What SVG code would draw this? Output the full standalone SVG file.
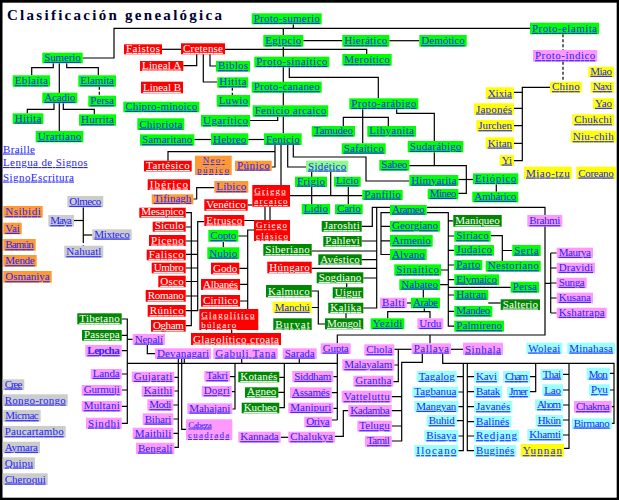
<svg xmlns="http://www.w3.org/2000/svg" width="619" height="500" viewBox="0 0 619 500">
<style>
text{font-family:"Liberation Serif","DejaVu Serif",serif;font-size:11px;text-decoration:underline;fill:#2424ff}
text.t2{font-size:9px}
.g rect{fill:#00ff00}
.lg rect{fill:#88ff88}
.dg rect{fill:#008800}.dg text{fill:#ffffff}
.r rect{fill:#ff0000}.r text{fill:#ffffff}
.o rect{fill:#ff9933}
.p rect{fill:#ff99ff}
.y rect{fill:#ffff00}
.c rect{fill:#99ffff}
.s rect{fill:#cccccc}
#connectors path{fill:none;stroke:#000;stroke-width:1.2}
#connectors path.d{stroke-dasharray:3 2}
.title{font-size:15px;font-weight:bold;text-decoration:none;fill:#000033}
</style>
<rect x="0" y="0" width="619" height="500" fill="#000"/>
<rect x="2.5" y="2.7" width="614.2" height="495" fill="#fff"/>
<text class="title" x="7" y="19.5" textLength="215">Clasificación genealógica</text>
<g id="links">
<text x="3" y="152.5" textLength="32">Braille</text>
<text x="3" y="166" textLength="84.6">Lengua de Signos</text>
<text x="3" y="180.5" textLength="71">SignoEscritura</text>
</g>
<g id="connectors">
<path d="M82.7,58 H114 V28.3 H530"/>
<path d="M293.3,24.3 V28.3"/>
<path d="M283.3,28.3 V35"/>
<path d="M303.3,40.7 H342.3"/>
<path d="M389.3,40.7 H419.3"/>
<path d="M162,49.3 H181"/>
<path d="M225,49.3 H366.7 V54"/>
<path d="M283.3,46.7 V133.3"/>
<path d="M196.7,54.3 V65.7 H183.3"/>
<path d="M210,54.3 V66 H216"/>
<path d="M203.3,54.3 V82 H217.3"/>
<path class="d" d="M232.3,87.7 V95"/>
<path d="M289.3,67.4 V77.3 H378.3 V98.3"/>
<path d="M250,120.5 H277.7 V116.7"/>
<path d="M194.3,139.5 H211"/>
<path d="M248.3,139.5 H264"/>
<path d="M362.7,109.3 V143.3"/>
<path d="M343.3,126 V117.3 H388.3 V126"/>
<path d="M396.7,109.3 V113.3 H434.3 V141"/>
<path d="M434.3,152.3 V165.7"/>
<path d="M409.3,165.7 H466.3 V193.3 H458.3"/>
<path d="M458.3,179.5 H473"/>
<path d="M496.3,184.3 V191.7"/>
<path class="d" d="M563,34.3 V50"/>
<path class="d" d="M563,61.7 V81.7"/>
<path d="M550,87.3 H522.3 V160.7 H514 M514,92.3 H522.3 M514,108.3 H522.3 M514,125.7 H522.3 M514,143.3 H522.3"/>
<path d="M31.7,75.3 V67.7 H53.3 V63.3"/>
<path d="M66.7,63.3 V67.7 H98.3 V75.3"/>
<path d="M59.3,63.3 V131"/>
<path class="d" d="M99.3,86.7 V95.7"/>
<path d="M27.3,113.3 V109.3 H54 V103.3"/>
<path d="M63.3,103.3 V109.3 H94.3 V114.3"/>
<path d="M275,145 V167 H271.7"/>
<path d="M275,151.7 H168 V160.7"/>
<path d="M281,145 V185"/>
<path d="M287.7,145 V167 H306"/>
<path d="M293.3,145 V157 H366 V181 H409.3"/>
<path d="M290,195.7 H362.3"/>
<path d="M311.7,172 V204"/>
<path d="M330.7,172 V195.7"/>
<path d="M348.3,186.7 V204.3"/>
<path d="M265,206.7 V220.5 H244.3"/>
<path d="M247.7,205 H252.3"/>
<path d="M270,206.7 V220"/>
<path d="M254,230 H247.7 V309 M238.3,236 H247.7 M239.3,268.3 H247.7 M240,284.3 H247.7 M240,301 H247.7"/>
<path d="M223.3,241.7 V247.3"/>
<path d="M231.7,330 V333"/>
<path d="M204.3,221.7 H197.7 V310.7 H185.7 M185.7,241 H197.7 M185.7,254.3 H197.7 M185.7,268 H197.7 M185.7,281.5 H197.7 M185.7,296 H197.7"/>
<path d="M185.7,212.7 H191.3 V325.7 H185.7 M185.7,227 H191.3"/>
<path d="M214.3,187.7 H196.7 V199 H193.3"/>
<path d="M426.7,207.3 H545 V335 H337.3 V343.3 M430,335 V343.3"/>
<path d="M426.7,212.7 H448.3 V326.2 H454.3 M448.3,220.8 H453.3 M448.3,236 H454.3 M448.3,250.3 H454.3 M448.3,265 H454.3 M448.3,279.6 H454.3 M448.3,295 H454.3 M448.3,311.3 H454.3 M441,270 H448.3 M440,284.6 H448.3"/>
<path d="M423.3,290 V297.7"/>
<path d="M406.7,303 H411"/>
<path d="M387.7,318.3 V311.7 H430 V318.3 M424.3,308.3 V311.7"/>
<path d="M390,207.3 H372.3 V226.3 H361.7"/>
<path d="M390,212.7 H381 V254.5 H390 M381,226.3 H390 M381,240.8 H390"/>
<path d="M376.7,207.3 V308 H363.3 M361.7,241 H376.7 M311.7,251 H376.7 M361.7,259.7 H376.7 M311.7,268.3 H376.7 M363.3,278 H376.7"/>
<path d="M346.7,283.3 V287.3"/>
<path d="M346,313.3 V318.3"/>
<path d="M325,324 H318.3 V291 H311.7 M311.7,307.5 H318.3"/>
<path d="M490.7,235.7 H502.3 V261 M502.3,250.5 H512.3"/>
<path d="M448.3,287.3 H510.7"/>
<path d="M488.3,303 H500.7"/>
<path d="M545,283.3 H550.7 M550.7,253 V313 M550.7,253 H556.7 M550.7,268 H556.7 M550.7,283 H556.7 M550.7,298 H556.7 M550.7,313 H556.7"/>
<path d="M337.3,354 V420 M333.3,376.7 H337.3 M331.7,392.7 H337.3 M333.3,408.3 H337.3 M331.7,420 H337.3"/>
<path d="M127.3,363.3 H337.3"/>
<path d="M121.7,319 H127.3 V423.3 H121.7 M121.7,335.3 H127.3 M121.7,350.7 H127.3 M121.7,374 H127.3 M121.7,390 H127.3 M121.7,406.3 H127.3"/>
<path d="M127.3,339.3 H132.7"/>
<path d="M147.3,345 V353.7 H155"/>
<path d="M178.3,359 V447.3 H174.3 M174.3,377.3 H178.3 M174.3,391 H178.3 M173.3,405 H178.3 M173.3,419 H178.3 M173.3,433.3 H178.3"/>
<path d="M181.7,359 V429.3 H186"/>
<path d="M184.3,359 V363.3"/>
<path d="M241.7,359 V363.3"/>
<path d="M235,363.3 V409 H232.3 M230,376.7 H235 M231.7,391.7 H235"/>
<path d="M284.3,363.3 V407.7 H279.3 M279.3,377.3 H284.3 M278.3,392.3 H284.3"/>
<path d="M299.3,359 V363.3"/>
<path d="M280.7,437.3 H288.3"/>
<path d="M348.3,410.7 H343.3 V436.3 H335"/>
<path d="M394.3,349.3 H411.7"/>
<path d="M398.3,349.3 V381.7 H393.3 M394.3,365 H398.3"/>
<path d="M422.3,354 V362.3 H401.7 V441 H391.7 M391.7,396.7 H401.7 M391.7,410.7 H401.7 M391.7,426 H401.7"/>
<path d="M451,349.3 H463"/>
<path d="M442.7,354 V363.3 H614 V423.3 H611.7"/>
<path d="M463.3,363.3 V450.7 H458.3 M456.7,376.7 H463.3 M458.3,392 H463.3 M458.3,406.7 H463.3 M456.7,420.7 H463.3 M458.3,436 H463.3"/>
<path d="M467.3,363.3 V450.7 H474 M467.3,376.7 H474 M467.3,391.7 H474 M467.3,406.7 H474 M467.3,421.7 H474 M467.3,436 H474"/>
<path d="M535.7,363.3 V391.7 H530 M530,376.7 H535.7"/>
<path d="M569,363.3 V448.3 H564 M563,374.3 H569 M563,390 H569 M563,405 H569 M563,420 H569 M563,435 H569"/>
<path d="M609.7,373.3 H614 M609.7,390 H614 M611.7,406.7 H614"/>
<path d="M83.3,207.3 V240"/>
<path class="d" d="M83.3,240 V245.7"/>
<path d="M74,220.5 H83.3"/>
<path d="M83.3,235 H92.3"/>
</g>
<g id="proto-sumerio" class="g"><rect x="251.7" y="13.3" width="70" height="11"/><text x="253.7" y="21.8" textLength="66">Proto-sumerio</text></g>
<g id="egipcio" class="g"><rect x="263.3" y="35" width="40" height="11.7"/><text x="265.3" y="44.2" textLength="36">Egipcio</text></g>
<g id="hieratico" class="g"><rect x="342.3" y="35" width="47" height="11.7"/><text x="344.3" y="44.2" textLength="43">Hierático</text></g>
<g id="demotico" class="g"><rect x="419.3" y="35" width="47.4" height="11.7"/><text x="421.3" y="44.2" textLength="43.4">Demótico</text></g>
<g id="proto-elamita" class="g"><rect x="530" y="22.7" width="69" height="11.6"/><text x="532" y="31.8" textLength="65">Proto-elamita</text></g>
<g id="proto-indico" class="p"><rect x="533" y="50" width="64.3" height="11.7"/><text x="535" y="59.2" textLength="60.3">Proto-índico</text></g>
<g id="chino" class="y"><rect x="550" y="81.7" width="31.7" height="11"/><text x="552" y="90.2" textLength="27.7">Chino</text></g>
<g id="miao" class="y"><rect x="588.3" y="66.7" width="25.7" height="10.6"/><text x="590.3" y="74.8" textLength="21.7">Miao</text></g>
<g id="naxi" class="y"><rect x="590.7" y="81.7" width="23.3" height="11"/><text x="592.7" y="90.2" textLength="19.3">Naxi</text></g>
<g id="yao" class="y"><rect x="593" y="98.3" width="21" height="11"/><text x="595" y="106.8" textLength="17">Yao</text></g>
<g id="chukchi" class="y"><rect x="572.3" y="114.3" width="41.7" height="11.4"/><text x="574.3" y="123.2" textLength="37.7">Chukchi</text></g>
<g id="niu-chih" class="y"><rect x="570.7" y="130.7" width="45" height="12"/><text x="572.7" y="140.2" textLength="41">Niu-chih</text></g>
<g id="xixia" class="y"><rect x="485.7" y="87.3" width="28.3" height="11.7"/><text x="487.7" y="96.5" textLength="24.3">Xixia</text></g>
<g id="japones" class="y"><rect x="474" y="103.3" width="40" height="11.7"/><text x="476" y="112.5" textLength="36">Japonés</text></g>
<g id="jurchen" class="y"><rect x="476.3" y="120" width="37.7" height="11.7"/><text x="478.3" y="129.2" textLength="33.7">Jurchen</text></g>
<g id="kitan" class="y"><rect x="485.7" y="137.3" width="28.3" height="11.7"/><text x="487.7" y="146.5" textLength="24.3">Kitan</text></g>
<g id="yi" class="y"><rect x="499.7" y="155" width="14.3" height="11"/><text x="501.7" y="163.5" textLength="10.3">Yi</text></g>
<g id="miao-tzu" class="y"><rect x="524" y="166.7" width="47.7" height="12.3"/><text x="526" y="176.5" textLength="43.7">Miao-tzu</text></g>
<g id="coreano" class="y"><rect x="576.3" y="166.7" width="39.4" height="12.3"/><text x="578.3" y="176.5" textLength="35.4">Coreano</text></g>
<g id="sumerio" class="g"><rect x="42.3" y="52.7" width="40.4" height="10.6"/><text x="44.3" y="60.8" textLength="36.4">Sumerio</text></g>
<g id="eblaita" class="g"><rect x="12.7" y="75.3" width="37.3" height="11.4"/><text x="14.7" y="84.2" textLength="33.3">Eblaíta</text></g>
<g id="elamita" class="g"><rect x="78.3" y="75.3" width="37.7" height="11.4"/><text x="80.3" y="84.2" textLength="33.7">Elamita</text></g>
<g id="acadio" class="g"><rect x="42.3" y="92.7" width="35" height="10.6"/><text x="44.3" y="100.8" textLength="31">Acadio</text></g>
<g id="persa" class="g"><rect x="88.3" y="95.7" width="27.7" height="11"/><text x="90.3" y="104.2" textLength="23.7">Persa</text></g>
<g id="hitita" class="g"><rect x="12.7" y="113.3" width="30.6" height="10.7"/><text x="14.7" y="121.5" textLength="26.6">Hitita</text></g>
<g id="hurrita" class="g"><rect x="79" y="114.3" width="37" height="11.4"/><text x="81" y="123.2" textLength="33">Hurrita</text></g>
<g id="urartiano" class="g"><rect x="35.7" y="131" width="47.6" height="11.3"/><text x="37.7" y="139.8" textLength="43.6">Urartiano</text></g>
<g id="faistos" class="r"><rect x="124" y="44.3" width="38" height="10"/><text x="126" y="51.8" textLength="34">Faistos</text></g>
<g id="cretense" class="r"><rect x="181" y="43.3" width="44" height="11"/><text x="183" y="51.8" textLength="40">Cretense</text></g>
<g id="lineal-a" class="r"><rect x="140" y="61" width="43.3" height="10"/><text x="142" y="68.5" textLength="39.3">Lineal A</text></g>
<g id="lineal-b" class="r"><rect x="141" y="81.7" width="42" height="11.6"/><text x="143" y="90.8" textLength="38">Lineal B</text></g>
<g id="chipro-minoico" class="g"><rect x="123.3" y="101.7" width="76" height="10.6"/><text x="125.3" y="109.8" textLength="72">Chipro-minoico</text></g>
<g id="chipriota" class="g"><rect x="137.3" y="118.3" width="47" height="11.7"/><text x="139.3" y="127.5" textLength="43">Chipriota</text></g>
<g id="samaritano" class="g"><rect x="140" y="134.3" width="54.3" height="11.4"/><text x="142" y="143.2" textLength="50.3">Samaritano</text></g>
<g id="biblos" class="g"><rect x="216" y="61" width="34" height="10.7"/><text x="218" y="69.2" textLength="30">Biblos</text></g>
<g id="hitita-2" class="g"><rect x="217.3" y="77.3" width="31" height="10.4"/><text x="219.3" y="85.2" textLength="27">Hitita</text></g>
<g id="luwio" class="g"><rect x="216.7" y="95" width="33.3" height="11.7"/><text x="218.7" y="104.2" textLength="29.3">Luwio</text></g>
<g id="proto-sinaitico" class="g"><rect x="254.3" y="56.7" width="75" height="10.7"/><text x="256.3" y="64.9" textLength="71">Proto-sinaítico</text></g>
<g id="proto-cananeo" class="g"><rect x="251.7" y="81.7" width="70" height="11"/><text x="253.7" y="90.2" textLength="66">Proto-cananeo</text></g>
<g id="fenicio-arcaico" class="g"><rect x="252.7" y="105.3" width="75.6" height="11.4"/><text x="254.7" y="114.2" textLength="71.6">Fenicio arcaico</text></g>
<g id="ugaritico" class="g"><rect x="201" y="115" width="49" height="11.7"/><text x="203" y="124.2" textLength="45">Ugarítico</text></g>
<g id="hebreo" class="g"><rect x="211" y="133.3" width="37.3" height="11.7"/><text x="213" y="142.5" textLength="33.3">Hebreo</text></g>
<g id="fenicio" class="g"><rect x="264" y="133.3" width="37.7" height="11.7"/><text x="266" y="142.5" textLength="33.7">Fenicio</text></g>
<g id="meroitico" class="g"><rect x="342.3" y="54" width="49.4" height="11.7"/><text x="344.3" y="63.2" textLength="45.4">Meroítico</text></g>
<g id="proto-arabigo" class="g"><rect x="349.3" y="98.3" width="69" height="11"/><text x="351.3" y="106.8" textLength="65">Proto-arábigo</text></g>
<g id="tamudeo" class="g"><rect x="311.7" y="126" width="43.3" height="10.7"/><text x="313.7" y="134.2" textLength="39.3">Tamudeo</text></g>
<g id="lihyanita" class="g"><rect x="367.3" y="126" width="48.7" height="10.7"/><text x="369.3" y="134.2" textLength="44.7">Lihyanita</text></g>
<g id="safaitico" class="g"><rect x="341.7" y="143.3" width="44" height="10.7"/><text x="343.7" y="151.5" textLength="40">Safaítico</text></g>
<g id="sudarabigo" class="g"><rect x="407.7" y="141" width="55.6" height="11.3"/><text x="409.7" y="149.8" textLength="51.6">Sudarábigo</text></g>
<g id="sabeo" class="g"><rect x="379.3" y="160" width="30" height="10.7"/><text x="381.3" y="168.2" textLength="26">Sabeo</text></g>
<g id="himyarita" class="g"><rect x="409.3" y="175" width="49" height="11"/><text x="411.3" y="183.5" textLength="45">Himyarita</text></g>
<g id="mineo" class="g"><rect x="427.7" y="189" width="30.6" height="10.3"/><text x="429.7" y="196.8" textLength="26.6">Mineo</text></g>
<g id="etiopico" class="g"><rect x="473" y="173.3" width="45.3" height="11"/><text x="475" y="181.8" textLength="41.3">Etiópico</text></g>
<g id="amharico" class="g"><rect x="472.3" y="191.7" width="46" height="10.6"/><text x="474.3" y="199.8" textLength="42">Amhárico</text></g>
<g id="tartesico" class="r"><rect x="144" y="160.7" width="47.7" height="10.8"/><text x="146" y="169" textLength="43.7">Tartésico</text></g>
<g id="neo-punico" class="o"><rect x="195" y="155.7" width="36.7" height="19.3"/><text class="t2" x="202.7" y="163" textLength="22">Neo-</text><text class="t2" x="197" y="173" textLength="32">púnico</text></g>
<g id="punico" class="o"><rect x="235" y="160.7" width="36.7" height="10.3"/><text x="237" y="168.5" textLength="32.7">Púnico</text></g>
<g id="iberico" class="r"><rect x="147.7" y="179.3" width="42.3" height="10.7"/><text x="149.7" y="187.5" textLength="38.3">Ibérico</text></g>
<g id="tifinagh" class="o"><rect x="151.7" y="194.3" width="41.6" height="10"/><text x="153.7" y="201.8" textLength="37.6">Tifinagh</text></g>
<g id="libico" class="o"><rect x="214.3" y="181" width="34" height="11.7"/><text x="216.3" y="190.2" textLength="30">Líbico</text></g>
<g id="griego-arcaico" class="r"><rect x="252.3" y="185" width="37.7" height="21.7"/><text class="t2" x="254.3" y="193.5" textLength="31.4">Griego</text><text class="t2" x="254.3" y="204" textLength="33.3">arcaico</text></g>
<g id="venetico" class="r"><rect x="204.3" y="199.3" width="43.4" height="11.4"/><text x="206.3" y="208.2" textLength="39.4">Venético</text></g>
<g id="mesapico" class="r"><rect x="139.3" y="207.7" width="46.4" height="10"/><text x="141.3" y="215.2" textLength="42.4">Mesapico</text></g>
<g id="etrusco" class="r"><rect x="204.3" y="215" width="40" height="11"/><text x="206.3" y="223.5" textLength="36">Etrusco</text></g>
<g id="siculo" class="r"><rect x="152.7" y="221.7" width="33" height="10"/><text x="154.7" y="229.2" textLength="29">Sículo</text></g>
<g id="griego-clasico" class="r"><rect x="254" y="220" width="36" height="21"/><text class="t2" x="256" y="228.3" textLength="31">Griego</text><text class="t2" x="256" y="238.8" textLength="32">clásico</text></g>
<g id="copto" class="g"><rect x="208.3" y="230" width="30" height="11.7"/><text x="210.3" y="239.2" textLength="26">Copto</text></g>
<g id="piceno" class="r"><rect x="149" y="235" width="36.7" height="11"/><text x="151" y="243.5" textLength="32.7">Piceno</text></g>
<g id="nubio" class="g"><rect x="207.3" y="247.3" width="32" height="11.7"/><text x="209.3" y="256.5" textLength="28">Nubio</text></g>
<g id="falisco" class="r"><rect x="146.7" y="249.7" width="39" height="10.6"/><text x="148.7" y="257.8" textLength="35">Falisco</text></g>
<g id="siberiano" class="dg"><rect x="263.3" y="244" width="48.4" height="11.7"/><text x="265.3" y="253.2" textLength="44.4">Siberiano</text></g>
<g id="umbro" class="r"><rect x="151.7" y="262.7" width="34" height="10.6"/><text x="153.7" y="270.8" textLength="30">Umbro</text></g>
<g id="godo" class="r"><rect x="211" y="262.7" width="28.3" height="11.6"/><text x="213" y="271.8" textLength="24.3">Godo</text></g>
<g id="hungaro" class="r"><rect x="267.3" y="261.7" width="44.4" height="11.6"/><text x="269.3" y="270.8" textLength="40.4">Húngaro</text></g>
<g id="osco" class="r"><rect x="158.3" y="275.7" width="27.4" height="11.6"/><text x="160.3" y="284.8" textLength="23.4">Osco</text></g>
<g id="albanes" class="r"><rect x="201" y="279" width="39" height="11"/><text x="203" y="287.5" textLength="35">Albanés</text></g>
<g id="romano" class="r"><rect x="145.7" y="290" width="40" height="11.7"/><text x="147.7" y="299.2" textLength="36">Romano</text></g>
<g id="kalmuco" class="dg"><rect x="266" y="285" width="45.7" height="12.3"/><text x="268" y="294.8" textLength="41.7">Kalmuco</text></g>
<g id="cirilico" class="r"><rect x="201" y="295" width="39" height="11.7"/><text x="203" y="304.2" textLength="35">Cirílico</text></g>
<g id="runico" class="r"><rect x="147.7" y="305" width="38" height="11.7"/><text x="149.7" y="314.2" textLength="34">Rúnico</text></g>
<g id="manchu" class="y"><rect x="272.7" y="301.7" width="39" height="11.6"/><text x="274.7" y="310.8" textLength="35">Manchú</text></g>
<g id="glagolitico-bulgaro" class="r"><rect x="199.3" y="309" width="59" height="21"/><text class="t2" x="201.3" y="317.5" textLength="53.3">Glagolítico</text><text class="t2" x="201.3" y="328" textLength="35">búlgaro</text></g>
<g id="ogham" class="r"><rect x="151" y="320" width="34.7" height="11.7"/><text x="153" y="329.2" textLength="30.7">Ogham</text></g>
<g id="buryat" class="dg"><rect x="273.3" y="318.3" width="38.4" height="11.7"/><text x="275.3" y="327.5" textLength="34.4">Buryat</text></g>
<g id="glagolitico-croata" class="r"><rect x="191" y="333" width="90" height="12"/><text x="193" y="342.5" textLength="86">Glagolítico croata</text></g>
<g id="sidetico" class="lg"><rect x="306" y="160.7" width="42.3" height="11.3"/><text x="308" y="169.5" textLength="38.3">Sidético</text></g>
<g id="frigio" class="g"><rect x="295" y="176.7" width="32" height="10.3"/><text x="297" y="184.5" textLength="28">Frigio</text></g>
<g id="licio" class="g"><rect x="334" y="176.7" width="26.7" height="10"/><text x="336" y="184.2" textLength="22.7">Licio</text></g>
<g id="panfilio" class="g"><rect x="362.3" y="190" width="40.4" height="10"/><text x="364.3" y="197.5" textLength="36.4">Panfilio</text></g>
<g id="lidio" class="g"><rect x="301.7" y="204" width="28.3" height="10.3"/><text x="303.7" y="211.8" textLength="24.3">Lidio</text></g>
<g id="cario" class="g"><rect x="335" y="204.3" width="27.7" height="10"/><text x="337" y="211.8" textLength="23.7">Cario</text></g>
<g id="arameo" class="g"><rect x="390" y="205" width="36.7" height="10"/><text x="392" y="212.5" textLength="32.7">Arameo</text></g>
<g id="jaroshti" class="dg"><rect x="321.7" y="221" width="40" height="10.7"/><text x="323.7" y="229.2" textLength="36">Jaroshti</text></g>
<g id="pahlevi" class="dg"><rect x="323.3" y="236" width="38.4" height="10.7"/><text x="325.3" y="244.2" textLength="34.4">Pahlevi</text></g>
<g id="avestico" class="dg"><rect x="318.3" y="254.3" width="43.4" height="10.7"/><text x="320.3" y="262.5" textLength="39.4">Avéstico</text></g>
<g id="sogdiano" class="dg"><rect x="316.7" y="272.3" width="46.6" height="11"/><text x="318.7" y="280.8" textLength="42.6">Sogdiano</text></g>
<g id="uigur" class="dg"><rect x="332.7" y="287.3" width="30.6" height="11"/><text x="334.7" y="295.8" textLength="26.6">Uigur</text></g>
<g id="kalika" class="dg"><rect x="328.3" y="302.7" width="35" height="10.6"/><text x="330.3" y="310.8" textLength="31">Kalika</text></g>
<g id="mongol" class="dg"><rect x="325" y="318.3" width="38.3" height="11"/><text x="327" y="326.8" textLength="34.3">Mongol</text></g>
<g id="georgiano" class="g"><rect x="390" y="221" width="50" height="10.7"/><text x="392" y="229.2" textLength="46">Georgiano</text></g>
<g id="armenio" class="g"><rect x="390" y="235" width="42.7" height="11.7"/><text x="392" y="244.2" textLength="38.7">Armenio</text></g>
<g id="alvano" class="g"><rect x="390" y="249" width="36.7" height="11"/><text x="392" y="257.5" textLength="32.7">Alvano</text></g>
<g id="sinaitico" class="g"><rect x="394.3" y="264.3" width="46.7" height="11.4"/><text x="396.3" y="273.2" textLength="42.7">Sinaítico</text></g>
<g id="nabateo" class="g"><rect x="399.3" y="279.3" width="40.7" height="10.7"/><text x="401.3" y="287.5" textLength="36.7">Nabateo</text></g>
<g id="balti" class="p"><rect x="380" y="297.7" width="26.7" height="10.6"/><text x="382" y="305.8" textLength="22.7">Balti</text></g>
<g id="arabe" class="g"><rect x="411" y="297.7" width="29" height="10.6"/><text x="413" y="305.8" textLength="25">Arabe</text></g>
<g id="yezidi" class="g"><rect x="370.7" y="318.3" width="33.6" height="11"/><text x="372.7" y="326.8" textLength="29.6">Yezidi</text></g>
<g id="urdu" class="p"><rect x="417.3" y="318.3" width="26" height="11"/><text x="419.3" y="326.8" textLength="22">Urdu</text></g>
<g id="maniqueo" class="dg"><rect x="453.3" y="215" width="48.4" height="11.7"/><text x="455.3" y="224.2" textLength="44.4">Maniqueo</text></g>
<g id="siriaco" class="g"><rect x="454.3" y="231" width="36.4" height="10.7"/><text x="456.3" y="239.2" textLength="32.4">Siríaco</text></g>
<g id="judaico" class="g"><rect x="454.3" y="245" width="39.7" height="10.7"/><text x="456.3" y="253.2" textLength="35.7">Judaico</text></g>
<g id="parto" class="g"><rect x="454.3" y="260" width="28" height="10"/><text x="456.3" y="267.5" textLength="24">Parto</text></g>
<g id="elymaico" class="g"><rect x="454.3" y="274.3" width="44.7" height="10.7"/><text x="456.3" y="282.5" textLength="40.7">Elymaico</text></g>
<g id="hatran" class="g"><rect x="454.3" y="290" width="34" height="10"/><text x="456.3" y="297.5" textLength="30">Hatran</text></g>
<g id="mandeo" class="g"><rect x="454.3" y="306" width="38" height="10.7"/><text x="456.3" y="314.2" textLength="34">Mandeo</text></g>
<g id="palmireno" class="g"><rect x="454.3" y="320.7" width="49.7" height="11"/><text x="456.3" y="329.2" textLength="45.7">Palmireno</text></g>
<g id="brahmi" class="p"><rect x="527.3" y="215" width="35" height="11.7"/><text x="529.3" y="224.2" textLength="31">Brahmi</text></g>
<g id="serta" class="g"><rect x="512.3" y="245" width="28.4" height="11"/><text x="514.3" y="253.5" textLength="24.4">Serta</text></g>
<g id="nestoriano" class="g"><rect x="485.7" y="261" width="55" height="10.7"/><text x="487.7" y="269.2" textLength="51">Nestoriano</text></g>
<g id="persa-2" class="g"><rect x="510.7" y="281.7" width="28.3" height="11"/><text x="512.7" y="290.2" textLength="24.3">Persa</text></g>
<g id="salterio" class="dg"><rect x="500.7" y="299.3" width="39.3" height="10.7"/><text x="502.7" y="307.5" textLength="35.3">Salterio</text></g>
<g id="maurya" class="p"><rect x="556.7" y="247.7" width="36.3" height="10.6"/><text x="558.7" y="255.8" textLength="32.3">Maurya</text></g>
<g id="dravidi" class="p"><rect x="556.7" y="262.7" width="38.3" height="10.6"/><text x="558.7" y="270.8" textLength="34.3">Dravidi</text></g>
<g id="sunga" class="p"><rect x="556.7" y="277.7" width="30" height="10.6"/><text x="558.7" y="285.8" textLength="26">Sunga</text></g>
<g id="kusana" class="p"><rect x="556.7" y="292.7" width="36.3" height="10.6"/><text x="558.7" y="300.8" textLength="32.3">Kusana</text></g>
<g id="kshatrapa" class="p"><rect x="556.7" y="307.7" width="50" height="10.6"/><text x="558.7" y="315.8" textLength="46">Kshatrapa</text></g>
<g id="olmeco" class="s"><rect x="67.3" y="196" width="36" height="11.3"/><text x="69.3" y="204.8" textLength="32">Olmeco</text></g>
<g id="maya" class="s"><rect x="48.3" y="215" width="25.7" height="11.7"/><text x="50.3" y="224.2" textLength="21.7">Maya</text></g>
<g id="mixteco" class="s"><rect x="92.3" y="229.3" width="39.4" height="10.7"/><text x="94.3" y="237.5" textLength="35.4">Mixteco</text></g>
<g id="nahuatl" class="s"><rect x="64.3" y="245.7" width="39" height="12"/><text x="66.3" y="255.2" textLength="35">Nahuatl</text></g>
<g id="nsibidi" class="o"><rect x="3.3" y="206" width="39.4" height="11.7"/><text x="5.3" y="215.2" textLength="35.4">Nsibidi</text></g>
<g id="vai" class="o"><rect x="3.3" y="222.7" width="18.4" height="11.6"/><text x="5.3" y="231.8" textLength="14.4">Vai</text></g>
<g id="bamun" class="o"><rect x="3.3" y="239" width="32.4" height="11.7"/><text x="5.3" y="248.2" textLength="28.4">Bamún</text></g>
<g id="mende" class="o"><rect x="3.3" y="255" width="33.4" height="11.7"/><text x="5.3" y="264.2" textLength="29.4">Mende</text></g>
<g id="osmaniya" class="o"><rect x="3.3" y="271" width="48.4" height="11.7"/><text x="5.3" y="280.2" textLength="44.4">Osmaniya</text></g>
<g id="tibetano" class="dg"><rect x="77.3" y="313.3" width="44.4" height="11"/><text x="79.3" y="321.8" textLength="40.4">Tibetano</text></g>
<g id="passepa" class="dg"><rect x="82" y="330" width="39.7" height="10.7"/><text x="84" y="338.2" textLength="35.7">Passepa</text></g>
<g id="lepcha" class="p"><rect x="85.3" y="345" width="36.4" height="11.7"/><text x="87.3" y="354.2" textLength="32.4" font-weight="bold">Lepcha</text></g>
<g id="landa" class="p"><rect x="90.7" y="369" width="31" height="10.3"/><text x="92.7" y="376.8" textLength="27">Landa</text></g>
<g id="gurmuji" class="p"><rect x="81.7" y="385" width="40" height="10.7"/><text x="83.7" y="393.2" textLength="36">Gurmuji</text></g>
<g id="multani" class="p"><rect x="81.7" y="401" width="40" height="10.7"/><text x="83.7" y="409.2" textLength="36">Multani</text></g>
<g id="sindhi" class="p"><rect x="86" y="417.7" width="35.7" height="11.3"/><text x="88" y="426.5" textLength="31.7">Sindhi</text></g>
<g id="nepali" class="p"><rect x="132.7" y="334" width="32.3" height="11"/><text x="134.7" y="342.5" textLength="28.3">Nepalí</text></g>
<g id="devanagari" class="p"><rect x="155" y="348.3" width="56" height="10.7"/><text x="157" y="356.5" textLength="52">Devanagari</text></g>
<g id="gujarati" class="p"><rect x="131.7" y="371.7" width="42.6" height="10.6"/><text x="133.7" y="379.8" textLength="38.6">Gujarati</text></g>
<g id="kaithi" class="p"><rect x="141.7" y="386" width="32.6" height="10.7"/><text x="143.7" y="394.2" textLength="28.6">Kaithi</text></g>
<g id="modi" class="p"><rect x="147.3" y="399.3" width="26" height="11.4"/><text x="149.3" y="408.2" textLength="22">Modi</text></g>
<g id="bihari" class="p"><rect x="142.7" y="413.3" width="30.6" height="11.7"/><text x="144.7" y="422.5" textLength="26.6">Bihari</text></g>
<g id="maithili" class="p"><rect x="132.7" y="427.7" width="40.6" height="11.3"/><text x="134.7" y="436.5" textLength="36.6">Maithili</text></g>
<g id="bengali" class="p"><rect x="136" y="442.7" width="38.3" height="11.3"/><text x="138" y="451.5" textLength="34.3">Bengalí</text></g>
<g id="gabuli-tana" class="p"><rect x="213.3" y="348.3" width="64.4" height="10.7"/><text x="215.3" y="356.5" textLength="60.4">Gabuli Tana</text></g>
<g id="sarada" class="p"><rect x="282.7" y="348.3" width="34" height="10.7"/><text x="284.7" y="356.5" textLength="30">Sarada</text></g>
<g id="takri" class="p"><rect x="204.3" y="371" width="25.7" height="10.7"/><text x="206.3" y="379.2" textLength="21.7">Takri</text></g>
<g id="dogri" class="p"><rect x="201.7" y="386" width="30" height="10.7"/><text x="203.7" y="394.2" textLength="26">Dogri</text></g>
<g id="mahajani" class="p"><rect x="187.3" y="403.3" width="45" height="10.7"/><text x="189.3" y="411.5" textLength="41">Mahajani</text></g>
<g id="cabeza-cuadrada" class="p"><rect x="186" y="419.3" width="46.3" height="20.7"/><text class="t2" x="188.3" y="427.5" textLength="23.4">Cabeza</text><text class="t2" x="188" y="438" textLength="41.3">cuadrada</text></g>
<g id="kotanes" class="dg"><rect x="238.3" y="371.7" width="41" height="10.6"/><text x="240.3" y="379.8" textLength="37">Kotanés</text></g>
<g id="agneo" class="dg"><rect x="245" y="387.3" width="33.3" height="10.4"/><text x="247" y="395.2" textLength="29.3">Agneo</text></g>
<g id="kucheo" class="dg"><rect x="241.7" y="402.7" width="37.6" height="10.6"/><text x="243.7" y="410.8" textLength="33.6">Kucheo</text></g>
<g id="kannada" class="p"><rect x="238.3" y="431.7" width="42.4" height="11"/><text x="240.3" y="440.2" textLength="38.4">Kannada</text></g>
<g id="chalukya" class="p"><rect x="288.3" y="431.7" width="46.7" height="11"/><text x="290.3" y="440.2" textLength="42.7">Chalukya</text></g>
<g id="siddham" class="p"><rect x="292.3" y="371" width="41" height="11.3"/><text x="294.3" y="379.8" textLength="37">Siddham</text></g>
<g id="assames" class="p"><rect x="290" y="387.3" width="41.7" height="11"/><text x="292" y="395.8" textLength="37.7">Assamés</text></g>
<g id="manipuri" class="p"><rect x="288.3" y="402.7" width="45" height="10.6"/><text x="290.3" y="410.8" textLength="41">Manipuri</text></g>
<g id="oriya" class="p"><rect x="304.3" y="416.7" width="27.4" height="10.6"/><text x="306.3" y="424.8" textLength="23.4">Oriya</text></g>
<g id="gupta" class="p"><rect x="320.7" y="343.3" width="30" height="10.7"/><text x="322.7" y="351.5" textLength="26">Gupta</text></g>
<g id="chola" class="p"><rect x="364.3" y="344.3" width="30" height="11.4"/><text x="366.3" y="353.2" textLength="26">Chola</text></g>
<g id="pallava" class="p"><rect x="411.7" y="343.3" width="39.3" height="10.7"/><text x="413.7" y="351.5" textLength="35.3">Pallava</text></g>
<g id="malayalam" class="p"><rect x="342.3" y="359.3" width="52" height="11.4"/><text x="344.3" y="368.2" textLength="48">Malayalam</text></g>
<g id="grantha" class="p"><rect x="353.3" y="375.7" width="40" height="11"/><text x="355.3" y="384.2" textLength="36">Grantha</text></g>
<g id="vatteluttu" class="p"><rect x="341.7" y="390.7" width="50" height="12"/><text x="343.7" y="400.2" textLength="46">Vatteluttu</text></g>
<g id="kadamba" class="p"><rect x="348.3" y="405" width="43.4" height="11.7"/><text x="350.3" y="414.2" textLength="39.4">Kadamba</text></g>
<g id="telugu" class="p"><rect x="357.3" y="420.7" width="34.4" height="11"/><text x="359.3" y="429.2" textLength="30.4">Telugu</text></g>
<g id="tamil" class="p"><rect x="365" y="436" width="26.7" height="10.7"/><text x="367" y="444.2" textLength="22.7">Tamil</text></g>
<g id="sinhala" class="p"><rect x="463" y="342.7" width="40" height="12.3"/><text x="465" y="352.5" textLength="36">Sinhala</text></g>
<g id="woleai" class="c"><rect x="526.3" y="342.7" width="36" height="11.3"/><text x="528.3" y="351.5" textLength="32">Woleai</text></g>
<g id="minahasa" class="c"><rect x="567.3" y="342.7" width="47.7" height="11.3"/><text x="569.3" y="351.5" textLength="43.7">Minahasa</text></g>
<g id="tagalog" class="c"><rect x="416.7" y="371" width="40" height="11.3"/><text x="418.7" y="379.8" textLength="36">Tagalog</text></g>
<g id="tagbanua" class="c"><rect x="412.3" y="386.7" width="46" height="11"/><text x="414.3" y="395.2" textLength="42">Tagbanua</text></g>
<g id="mangyan" class="c"><rect x="414.3" y="401" width="44" height="11.3"/><text x="416.3" y="409.8" textLength="40">Mangyan</text></g>
<g id="buhid" class="c"><rect x="426.7" y="415" width="30" height="11.7"/><text x="428.7" y="424.2" textLength="26">Buhid</text></g>
<g id="bisaya" class="c"><rect x="424.3" y="430" width="34" height="11.7"/><text x="426.3" y="439.2" textLength="30">Bisaya</text></g>
<g id="ilocano" class="c"><rect x="414.3" y="445" width="44" height="11.7"/><text x="416.3" y="454.2" textLength="40">Ilocano</text></g>
<g id="kavi" class="c"><rect x="474" y="371" width="25" height="11.7"/><text x="476" y="380.2" textLength="21">Kavi</text></g>
<g id="cham" class="c"><rect x="503" y="371" width="27" height="11.7"/><text x="505" y="380.2" textLength="23">Cham</text></g>
<g id="batak" class="c"><rect x="474" y="386" width="28.3" height="11.7"/><text x="476" y="395.2" textLength="24.3">Batak</text></g>
<g id="jmer" class="c"><rect x="507.3" y="386.7" width="22.7" height="11"/><text x="509.3" y="395.2" textLength="18.7">Jmer</text></g>
<g id="javanes" class="c"><rect x="474" y="401" width="38.3" height="11.7"/><text x="476" y="410.2" textLength="34.3">Javanés</text></g>
<g id="balines" class="c"><rect x="474" y="416" width="37.3" height="11.3"/><text x="476" y="424.8" textLength="33.3">Balinés</text></g>
<g id="redjang" class="c"><rect x="474" y="430" width="45" height="11.7"/><text x="476" y="439.2" textLength="41">Redjang</text></g>
<g id="bugines" class="c"><rect x="474" y="445" width="42.3" height="11.7"/><text x="476" y="454.2" textLength="38.3">Buginés</text></g>
<g id="thai" class="c"><rect x="540.7" y="369" width="22.3" height="11"/><text x="542.7" y="377.5" textLength="18.3">Thai</text></g>
<g id="lao" class="c"><rect x="542.3" y="384.3" width="20.7" height="11.7"/><text x="544.3" y="393.5" textLength="16.7">Lao</text></g>
<g id="ahom" class="c"><rect x="535" y="399.3" width="28" height="11.4"/><text x="537" y="408.2" textLength="24">Ahom</text></g>
<g id="hkun" class="c"><rect x="535.7" y="415" width="27.3" height="11.7"/><text x="537.7" y="424.2" textLength="23.3">Hkün</text></g>
<g id="khamti" class="c"><rect x="527.3" y="429" width="35.7" height="11.7"/><text x="529.3" y="438.2" textLength="31.7">Khamti</text></g>
<g id="yunnan" class="y"><rect x="520.7" y="444" width="43.3" height="12.7"/><text x="522.7" y="454.2" textLength="39.3">Yunnan</text></g>
<g id="mon" class="c"><rect x="586.7" y="367.7" width="23" height="12.3"/><text x="588.7" y="377.5" textLength="19">Mon</text></g>
<g id="pyu" class="c"><rect x="589" y="384.3" width="20.7" height="11.4"/><text x="591" y="393.2" textLength="16.7">Pyu</text></g>
<g id="chakma" class="p"><rect x="574" y="401" width="37.7" height="11.7"/><text x="576" y="410.2" textLength="33.7">Chakma</text></g>
<g id="birmano" class="c"><rect x="571.7" y="418.3" width="40" height="10.7"/><text x="573.7" y="426.5" textLength="36">Birmano</text></g>
<g id="cree" class="s"><rect x="2.7" y="379.3" width="21.6" height="10.7"/><text x="4.7" y="387.5" textLength="17.6">Cree</text></g>
<g id="rongo-rongo" class="s"><rect x="2.7" y="394.3" width="65" height="11.7"/><text x="4.7" y="403.5" textLength="61">Rongo-rongo</text></g>
<g id="micmac" class="s"><rect x="3.3" y="410" width="37.4" height="11.7"/><text x="5.3" y="419.2" textLength="33.4">Micmac</text></g>
<g id="paucartambo" class="s"><rect x="2.7" y="426" width="63" height="11.7"/><text x="4.7" y="435.2" textLength="59">Paucartambo</text></g>
<g id="aymara" class="s"><rect x="2.7" y="441.7" width="37.3" height="11.6"/><text x="4.7" y="450.8" textLength="33.3">Aymara</text></g>
<g id="quipu" class="s"><rect x="2.7" y="457.3" width="32.3" height="11.7"/><text x="4.7" y="466.5" textLength="28.3">Quipu</text></g>
<g id="cheroqui" class="s"><rect x="2.7" y="473.3" width="45" height="11.7"/><text x="4.7" y="482.5" textLength="41">Cheroqui</text></g>
</svg>
